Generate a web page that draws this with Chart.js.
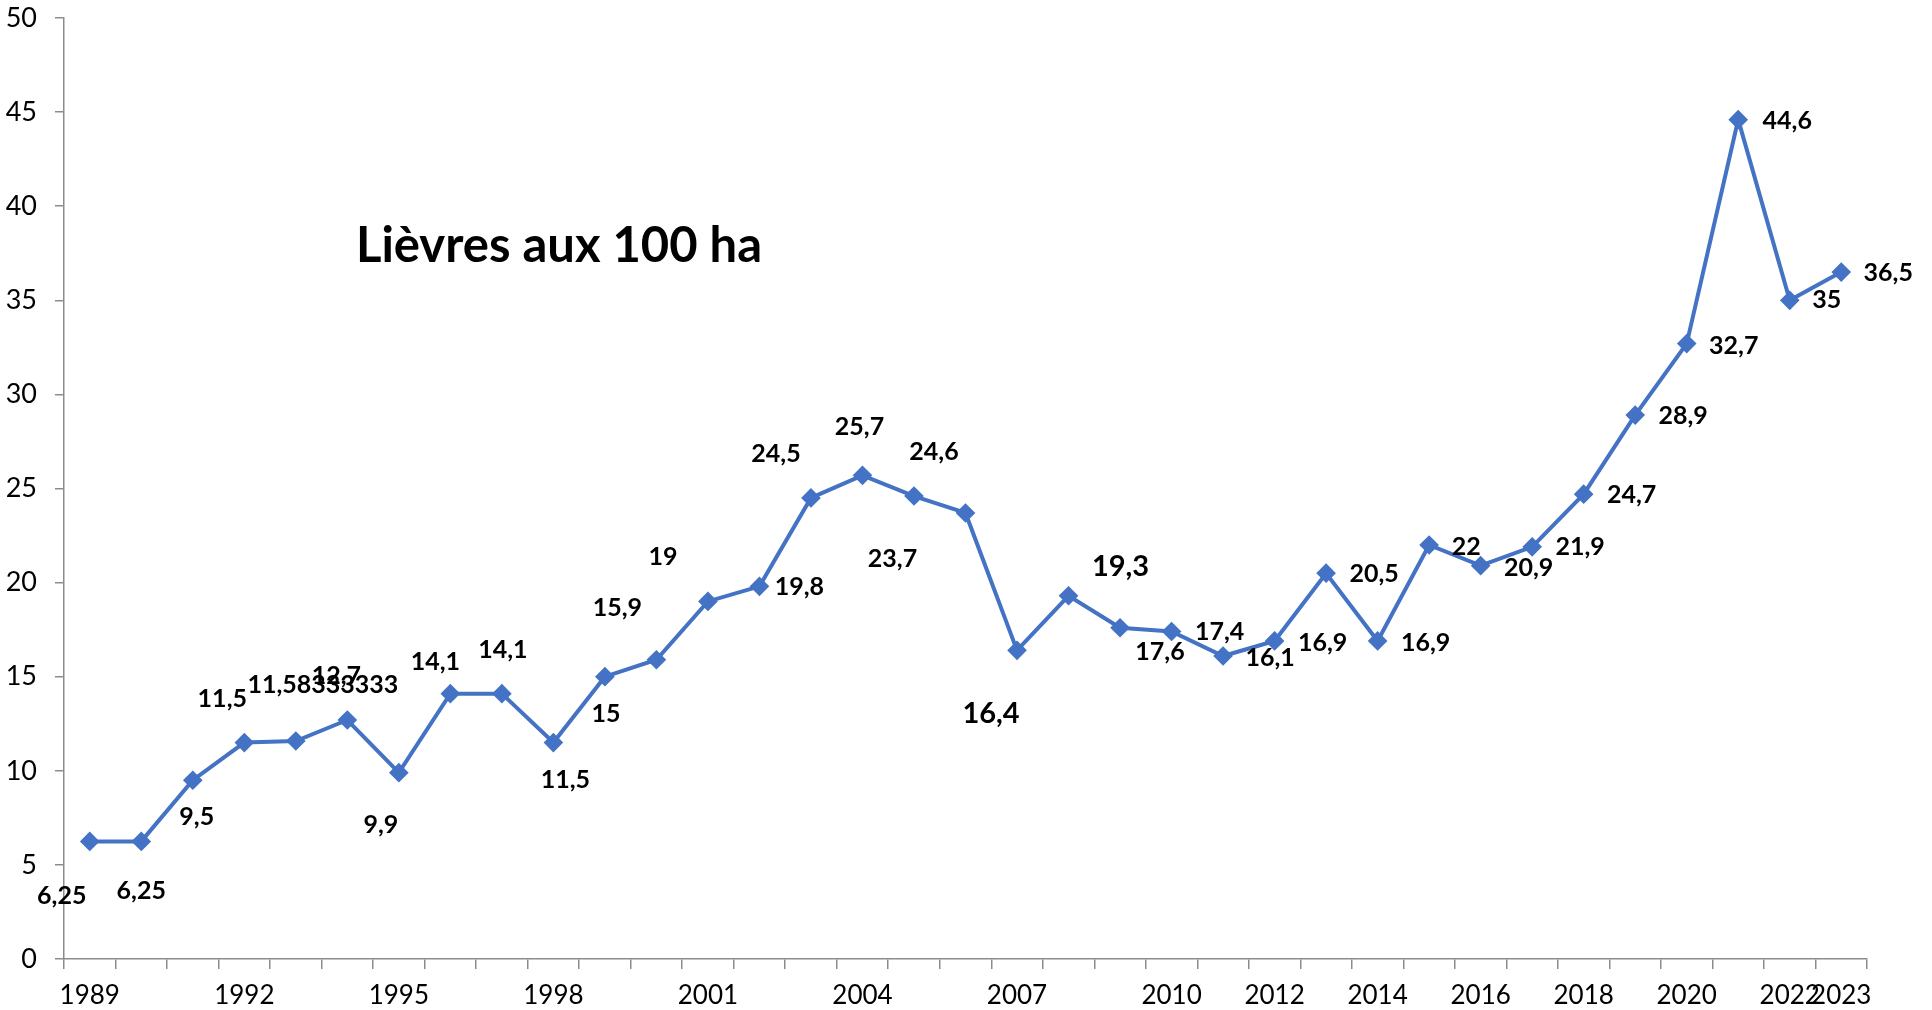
<!DOCTYPE html>
<html>
<head>
<meta charset="utf-8">
<script src="https://cdn.jsdelivr.net/npm/chart.js@4/dist/chart.umd.min.js"></script>
<style>
  html, body { margin: 0; padding: 0; background: #fff; }
  #wrap { width: 1932px; height: 1010px; }
</style>
</head>
<body>
<div id="wrap"><canvas id="hareChart" width="1932" height="1010"></canvas></div>
<script>
// years 1989 - 2023
const years = [1989, 1990, 1991, 1992, 1993, 1994, 1995, 1996, 1997, 1998,
    1999, 2000, 2001, 2002, 2003, 2004, 2005, 2006, 2007, 2008,
    2009, 2010, 2011, 2012, 2013, 2014, 2015, 2016, 2017, 2018,
    2019, 2020, 2021, 2022, 2023];
// hares per 100 ha
const hares = [6.25, 6.25, 9.5, 11.5, 11.58333333, 12.7, 9.9, 14.1, 14.1, 11.5,
    15, 15.9, 19, 19.8, 24.5, 25.7, 24.6, 23.7, 16.4, 19.3,
    17.6, 17.4, 16.1, 16.9, 20.5, 16.9, 22, 20.9, 21.9, 24.7,
    28.9, 32.7, 44.6, 35, 36.5];
// years that get a label on the x axis
const shownYears = [1989, 1992, 1995, 1998, 2001, 2004, 2007, 2010, 2012, 2014,
    2016, 2018, 2020, 2022, 2023];
const yTicks = [0, 5, 10, 15, 20, 25, 30, 35, 40, 45, 50];

// data label placement (offset from the point, px) - labels were moved by hand in the original
const labelDx = [-28, 0, 4, -22, 27, -11, -18, -15, 1, 12,
    1, -39, -45, 40, -35, -3, 20, -73, -26, 52,
    40, 48, 47, 48, 48, 48, 37, 48, 48, 48,
    48, 47, 49, 37, 47];
const labelDy = [55, 50, 37, -44, -56, -44, 52, -32, -44, 37,
    37, -52, -44, 1, -44, -48, -44, 46, 63, -29,
    24, 0, 2, 2, 1, 2, 2, 2, 0, 1,
    1, 2, 1, 0, 1];
const bigLabels = [18, 19];

const FONT = 'Lato, "Open Sans", sans-serif';
const axisColor = '#8c8c8c';

const pointLabels = {
    id: 'pointLabels',
    afterDatasetsDraw(chart) {
        const ctx = chart.ctx;
        const meta = chart.getDatasetMeta(0);
        ctx.save();
        ctx.fillStyle = '#000';
        ctx.textAlign = 'center';
        ctx.textBaseline = 'middle';
        meta.data.forEach((pt, i) => {
            const size = bigLabels.includes(i) ? 29 : 25;
            ctx.font = 'bold ' + size + 'px ' + FONT;
            const txt = String(hares[i]).replace('.', ',');
            ctx.fillText(txt, pt.x + labelDx[i], pt.y + labelDy[i]);
        });
        // title inside the plot
        ctx.font = 'bold 49px ' + FONT;
        ctx.fillText('Lièvres aux 100 ha', 559, 246);
        ctx.restore();
    }
};

new Chart(document.getElementById('hareChart').getContext('2d'), {
    type: 'line',
    data: {
        labels: years,
        datasets: [{
            data: hares,
            borderColor: '#4472C4',
            backgroundColor: '#4472C4',
            borderWidth: 4,
            pointStyle: 'rectRot',
            pointRadius: 7,
            pointHoverRadius: 7,
            tension: 0
        }]
    },
    options: {
        responsive: false,
        animation: false,
        events: [],
        layout: { padding: { top: 18, right: 65, left: 0, bottom: 0 } },
        plugins: {
            legend: { display: false },
            tooltip: { enabled: false }
        },
        scales: {
            x: {
                offset: true,
                grid: {
                    offset: true,
                    drawOnChartArea: false,
                    tickLength: 10,
                    color: axisColor,
                    lineWidth: 1.5
                },
                border: { color: axisColor, width: 1.5 },
                ticks: {
                    autoSkip: false,
                    maxRotation: 0,
                    padding: 11,
                    color: '#000',
                    font: { family: FONT, size: 26 },
                    callback: function(val, idx) {
                        const y = years[idx];
                        return shownYears.includes(y) ? String(y) : '';
                    }
                },
                afterFit: function(scale) {
                    scale.height = 51;
                    scale.paddingLeft = 0;
                    scale.paddingRight = 0;
                }
            },
            y: {
                min: 0,
                max: 50,
                afterBuildTicks: function(scale) {
                    scale.ticks = yTicks.map(v => ({ value: v }));
                },
                grid: {
                    drawOnChartArea: false,
                    tickLength: 9,
                    color: axisColor,
                    lineWidth: 1.5
                },
                border: { color: axisColor, width: 1.5 },
                ticks: {
                    padding: 18,
                    color: '#000',
                    font: { family: FONT, size: 27 }
                },
                afterFit: function(scale) {
                    scale.width = 64;
                    scale.paddingTop = 0;
                    scale.paddingBottom = 0;
                }
            }
        }
    },
    plugins: [pointLabels]
});
</script>
</body>
</html>
